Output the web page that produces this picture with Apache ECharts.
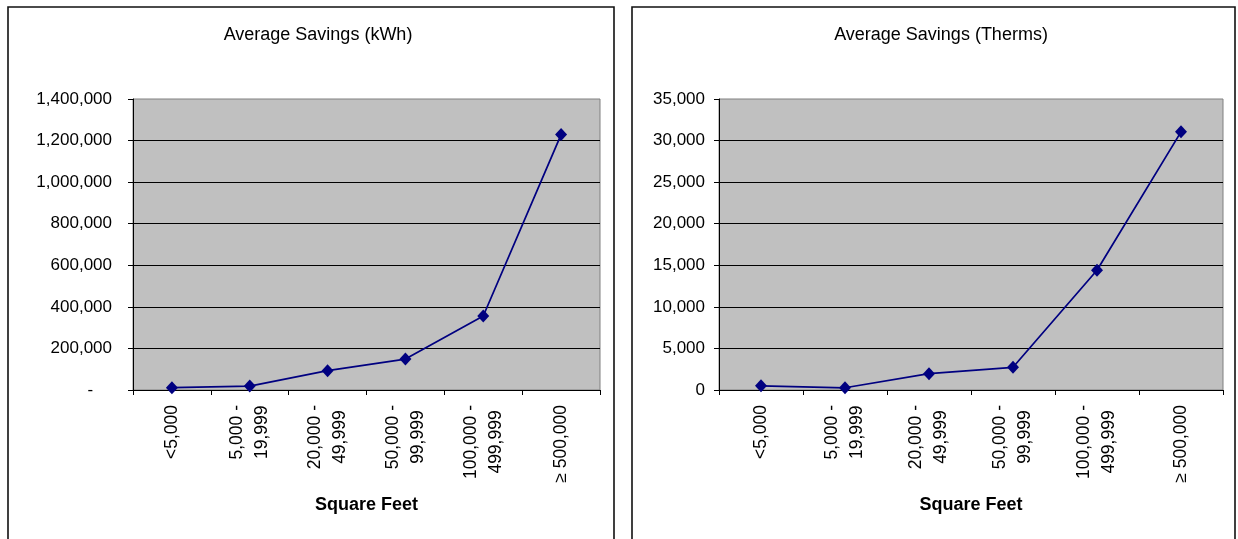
<!DOCTYPE html>
<html>
<head>
<meta charset="utf-8">
<script src="https://cdn.jsdelivr.net/npm/echarts@6/dist/echarts.min.js"></script>
<style>
html,body{margin:0;padding:0;background:#fff;}
#chart{width:1238px;height:539px;}
</style>
</head>
<body>
<div id="chart"></div>
<script>
const categories = ['<5,000', '5,000 -\n19,999', '20,000 -\n49,999', '50,000 -\n99,999', '100,000 -\n499,999', '\u2265 500,000'];
const kwhValues = [11000, 19000, 93000, 149000, 356000, 1229000];
const thermValues = [500, 270, 1960, 2730, 14400, 31050];
const titles = ['Average Savings (kWh)', 'Average Savings (Therms)'];
const xAxisName = 'Square Feet';

const FONT = "'Liberation Sans', Arial, sans-serif";
const chart = echarts.init(document.getElementById('chart'), null, {renderer: 'canvas'});

function fmtNum(v) { return v.toLocaleString('en-US'); }

function xAxisCfg(gridIndex) {
  return {
    type: 'category', gridIndex: gridIndex, data: categories, boundaryGap: true,
    name: xAxisName, nameLocation: 'middle', nameGap: 106,
    nameTextStyle: {fontFamily: FONT, fontSize: 18, fontWeight: 'bold', color: '#000'},
    axisLine: {show: true, lineStyle: {color: '#000', width: 1}},
    axisTick: {show: true, length: 5, inside: false, lineStyle: {color: '#000'}},
    axisLabel: {
      rotate: 90, margin: 15, interval: 0,
      formatter: function (v) { return v.split('\n').map(function (s) { return '{c|' + s + '}'; }).join('\n'); },
      rich: {c: {align: 'center', fontFamily: FONT, fontSize: 17.5, lineHeight: 25, color: '#000'}}
    },
    splitLine: {show: false}
  };
}

function yAxisCfg(gridIndex, max, interval, margin, zeroText) {
  return {
    type: 'value', gridIndex: gridIndex, min: 0, max: max, interval: interval,
    axisLine: {show: true, lineStyle: {color: '#000', width: 1}},
    axisTick: {show: true, length: 5, lineStyle: {color: '#000'}},
    axisLabel: {
      margin: margin, fontFamily: FONT, fontSize: 17, color: '#000',
      formatter: function (v) { return v === 0 ? zeroText : fmtNum(v); }
    },
    splitLine: {show: true, showMinLine: false, showMaxLine: false, lineStyle: {color: '#000', width: 1}}
  };
}

const option = {
  backgroundColor: '#fff',
  animation: false,
  title: [
    {text: titles[0], left: 313, top: 21, textAlign: 'center',
     textStyle: {fontFamily: FONT, fontSize: 18, fontWeight: 'normal', color: '#000'}},
    {text: titles[1], left: 936, top: 21, textAlign: 'center',
     textStyle: {fontFamily: FONT, fontSize: 18, fontWeight: 'normal', color: '#000'}}
  ],
  grid: [
    {left: 133, top: 99, width: 467, height: 291, show: true, backgroundColor: '#C0C0C0', borderColor: '#808080', borderWidth: 1},
    {left: 719, top: 99, width: 504, height: 291, show: true, backgroundColor: '#C0C0C0', borderColor: '#808080', borderWidth: 1}
  ],
  xAxis: [xAxisCfg(0), xAxisCfg(1)],
  yAxis: [
    yAxisCfg(0, 1400000, 200000, 21, '-    '),
    yAxisCfg(1, 35000, 5000, 14, '0')
  ],
  graphic: [
    {type: 'rect', shape: {x: 8, y: 7, width: 606, height: 545}, style: {fill: 'none', stroke: '#111', lineWidth: 1.6}, silent: true},
    {type: 'rect', shape: {x: 632, y: 7, width: 603, height: 545}, style: {fill: 'none', stroke: '#111', lineWidth: 1.6}, silent: true}
  ],
  series: [
    {type: 'line', xAxisIndex: 0, yAxisIndex: 0, data: kwhValues,
     symbol: 'diamond', symbolSize: [12, 13], showAllSymbol: true,
     lineStyle: {color: '#000080', width: 1.75}, itemStyle: {color: '#000080'}},
    {type: 'line', xAxisIndex: 1, yAxisIndex: 1, data: thermValues,
     symbol: 'diamond', symbolSize: [12, 13], showAllSymbol: true,
     lineStyle: {color: '#000080', width: 1.75}, itemStyle: {color: '#000080'}}
  ]
};
chart.setOption(option);
</script>
</body>
</html>
